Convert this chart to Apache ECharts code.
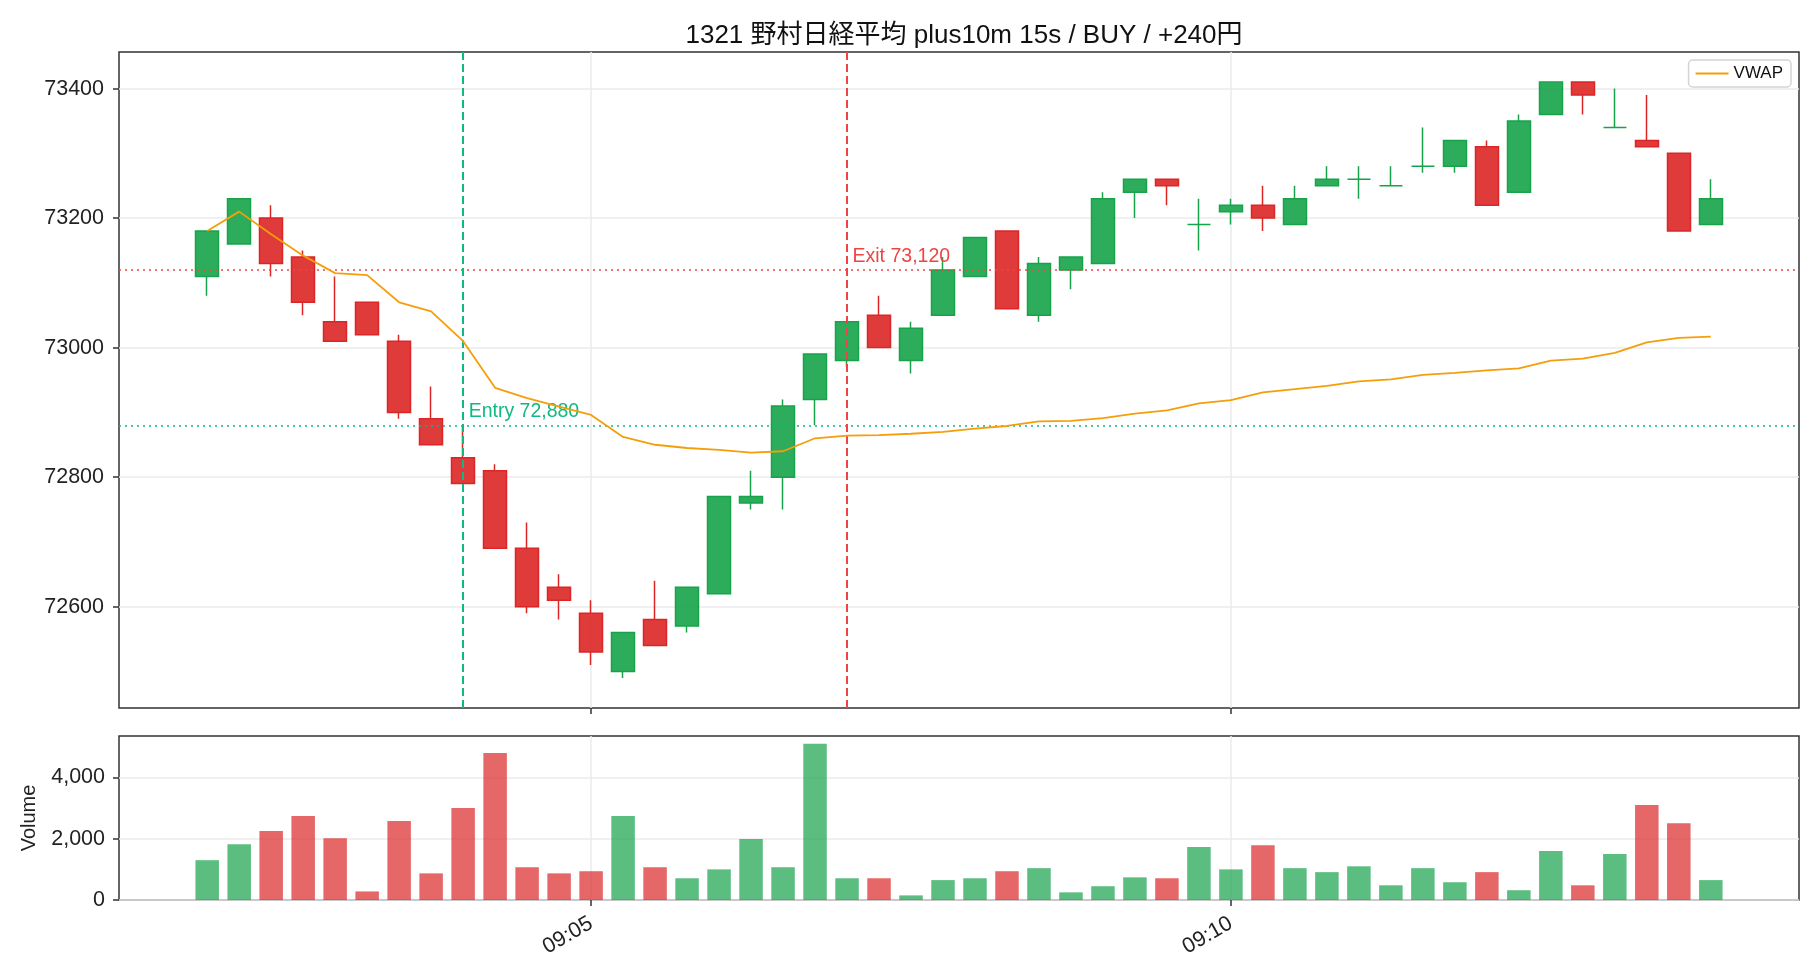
<!DOCTYPE html>
<html>
<head>
<meta charset="utf-8">
<script src="https://cdn.jsdelivr.net/npm/echarts@6/dist/echarts.min.js"></script>
<style>
html,body{margin:0;padding:0;background:#ffffff;}
#chart{width:1820px;height:980px;}
</style>
</head>
<body>
<div id="chart"></div>
<script>
// ---------- data ----------
const chartTitle = '1321 野村日経平均 plus10m 15s / BUY / +240円';
const opens  = [73110,73160,73200,73140,73040,73070,73010,72890,72830,72810,72690,72630,72590,72500,72580,72570,72620,72760,72800,72920,72980,73050,72980,73050,73110,73180,73050,73120,73130,73240,73260,73190,73210,73220,73190,73250,73260,73250,73280,73280,73310,73240,73360,73410,73340,73320,73300,73190];
const closes = [73180,73230,73130,73070,73010,73020,72900,72850,72790,72690,72600,72610,72530,72560,72540,72630,72770,72770,72910,72990,73040,73000,73030,73120,73170,73060,73130,73140,73230,73260,73250,73190,73220,73200,73230,73260,73260,73250,73280,73320,73220,73350,73410,73390,73340,73310,73180,73230];
const highs  = [73180,73230,73220,73150,73110,73070,73020,72940,72880,72820,72730,72650,72610,72560,72640,72630,72770,72810,72920,72990,73040,73080,73040,73140,73170,73180,73140,73140,73240,73260,73260,73230,73230,73250,73250,73280,73280,73280,73340,73320,73320,73360,73410,73410,73400,73390,73300,73260];
const lows   = [73080,73160,73110,73050,73010,73020,72890,72850,72790,72690,72590,72580,72510,72490,72540,72560,72620,72750,72750,72880,72970,73000,72960,73050,73110,73060,73040,73090,73130,73200,73220,73150,73190,73180,73190,73250,73230,73250,73270,73270,73220,73240,73360,73360,73340,73310,73180,73190];
const vwap   = [73180,73210,73175,73142,73115,73112,73070,73056,73010,72938,72922,72909,72896,72862,72850,72845,72842,72838,72840,72860,72864,72865,72867,72870,72875,72879,72886,72887,72891,72898,72903,72914,72919,72931,72936,72941,72948,72951,72958,72961,72965,72968,72980,72983,72992,73008,73015,73017];
const volumes = [1300,1820,2250,2740,2020,280,2580,870,3000,4800,1070,870,940,2740,1070,710,1000,1990,1070,5100,710,710,150,650,710,940,1040,250,450,740,710,1730,1000,1790,1040,910,1100,480,1040,580,910,320,1600,480,1500,3100,2510,650];
const xTickPos = [12, 32];
const xTickLabels = ['09:05', '09:10'];
const priceTicks = [72600, 72800, 73000, 73200, 73400];
const volumeTicks = [0, 2000, 4000];
const entryIndex = 8, entryPrice = 72880, entryLabel = 'Entry 72,880';
const exitIndex = 20, exitPrice = 73120, exitLabel = 'Exit 73,120';

// ---------- styles ----------
const FONT = '"Liberation Sans", "Noto Sans CJK JP", sans-serif';
const UP = '#16a34a', DOWN = '#dc2626';
const UP_BODY = 'rgba(22,163,74,0.9)', DOWN_BODY = 'rgba(220,38,38,0.9)';
const UP_VOL = 'rgba(22,163,74,0.7)', DOWN_VOL = 'rgba(220,38,38,0.7)';
const ENTRY_C = '#10b981', EXIT_C = '#ef4444';
const GRIDLINE = '#ebebeb';
const X_MIN = -2.757, X_MAX = 49.757;

const candleData = opens.map((o, i) => {
  const up = closes[i] >= o;
  const body = up ? UP_BODY : DOWN_BODY;
  const edge = up ? UP : DOWN;
  return {
    value: [i, o, closes[i], lows[i], highs[i]],
    itemStyle: { color: body, color0: body, borderColor: edge, borderColor0: edge, borderColorDoji: edge }
  };
});
const volData = volumes.map((v, i) => ({
  value: [i, v],
  itemStyle: { color: closes[i] >= opens[i] ? UP_VOL : DOWN_VOL }
}));
const vwapData = vwap.map((v, i) => [i, v]);

const labelStyle = { fontFamily: FONT, fontSize: 21.5, color: '#222' };
const tickStyle = { show: true, length: 6, lineStyle: { color: '#333', width: 1.5 } };

const chart = echarts.init(document.getElementById('chart'), null, { renderer: 'canvas' });
chart.setOption({
  backgroundColor: '#ffffff',
  animation: false,
  title: {
    text: chartTitle, left: 959, textAlign: 'center', top: 18,
    textStyle: { fontFamily: FONT, fontSize: 26, fontWeight: 'normal', color: '#111' }
  },
  legend: {
    data: [{ name: 'VWAP', icon: 'rect' }], right: 29, top: 60,
    orient: 'horizontal',
    padding: [5, 8, 5, 7],
    itemWidth: 33, itemHeight: 2, itemGap: 10,
    borderColor: '#d4d4d4', borderWidth: 1.5, borderRadius: 4,
    backgroundColor: '#ffffff',
    textStyle: { fontFamily: FONT, fontSize: 17, color: '#111' }
  },
  grid: [
    { left: 119, top: 52, width: 1680, height: 656, show: true, borderColor: '#333', borderWidth: 1.5, backgroundColor: 'transparent' },
    { left: 119, top: 736, width: 1680, height: 164, show: true, borderColor: '#333', borderWidth: 1.5, backgroundColor: 'transparent' }
  ],
  xAxis: [
    {
      type: 'value', gridIndex: 0, min: X_MIN, max: X_MAX, position: 'bottom',
      axisLine: { show: false, onZero: false },
      axisTick: { ...tickStyle, customValues: xTickPos },
      axisLabel: { show: false, customValues: xTickPos },
      splitLine: { show: true, lineStyle: { color: GRIDLINE, width: 1.5 } }
    },
    {
      type: 'value', gridIndex: 1, min: X_MIN, max: X_MAX, position: 'bottom',
      axisLine: { show: false, onZero: false },
      axisTick: { ...tickStyle, customValues: xTickPos },
      axisLabel: {
        show: true, customValues: xTickPos, rotate: 30, margin: 22,
        formatter: v => xTickLabels[xTickPos.indexOf(Math.round(v))] || '',
        ...labelStyle, fontSize: 21.5
      },
      splitLine: { show: true, lineStyle: { color: GRIDLINE, width: 1.5 } }
    }
  ],
  yAxis: [
    {
      type: 'value', gridIndex: 0, min: 72443.5, max: 73456.5, position: 'left',
      axisLine: { show: false, onZero: false },
      axisTick: { ...tickStyle, customValues: priceTicks },
      axisLabel: { show: true, customValues: priceTicks, margin: 15, formatter: v => String(v), ...labelStyle },
      splitLine: { show: true, lineStyle: { color: GRIDLINE, width: 1.5 } }
    },
    {
      type: 'value', gridIndex: 1, min: 0, max: 5355, position: 'left',
      name: 'Volume', nameLocation: 'middle', nameGap: 80, nameRotate: 90,
      nameTextStyle: { fontFamily: FONT, fontSize: 20, color: '#222' },
      axisLine: { show: false, onZero: false },
      axisTick: { ...tickStyle, customValues: volumeTicks },
      axisLabel: { show: true, customValues: volumeTicks, margin: 14, formatter: v => v.toLocaleString('en-US'), ...labelStyle },
      splitLine: { show: true, lineStyle: { color: GRIDLINE, width: 1.5 } }
    }
  ],
  series: [
    {
      name: 'Price', type: 'candlestick', xAxisIndex: 0, yAxisIndex: 0,
      encode: { x: 0, y: [1, 2, 3, 4] },
      barWidth: 23.5,
      itemStyle: { borderWidth: 1.5 },
      data: candleData,
      markLine: {
        silent: true, symbol: ['none', 'none'], animation: false,
        label: { show: false },
        data: [
          { yAxis: entryPrice, lineStyle: { color: ENTRY_C, type: [2, 4], width: 1.6 } },
          { yAxis: exitPrice, lineStyle: { color: EXIT_C, type: [2, 4], width: 1.6 } },
          { xAxis: entryIndex, lineStyle: { color: ENTRY_C, type: [8, 4], width: 2 } },
          { xAxis: exitIndex, lineStyle: { color: EXIT_C, type: [8, 4], width: 2 } }
        ]
      },
      markPoint: {
        silent: true, symbol: 'rect', symbolSize: 1, animation: false,
        itemStyle: { color: 'rgba(0,0,0,0)' },
        data: [
          { coord: [entryIndex, entryPrice], label: { show: true, formatter: entryLabel, position: [6, -3], align: 'left', verticalAlign: 'bottom', fontFamily: FONT, fontSize: 19.5, color: ENTRY_C } },
          { coord: [exitIndex, exitPrice], label: { show: true, formatter: exitLabel, position: [6, -3], align: 'left', verticalAlign: 'bottom', fontFamily: FONT, fontSize: 19.5, color: EXIT_C } }
        ]
      }
    },
    {
      name: 'VWAP', type: 'line', xAxisIndex: 0, yAxisIndex: 0,
      data: vwapData, symbol: 'none', showSymbol: false,
      lineStyle: { color: '#f59e0b', width: 1.8 },
      itemStyle: { color: '#f59e0b' },
      z: 5
    },
    {
      name: 'Volume', type: 'bar', xAxisIndex: 1, yAxisIndex: 1,
      data: volData, barWidth: 23.5
    }
  ]
});
</script>
</body>
</html>
